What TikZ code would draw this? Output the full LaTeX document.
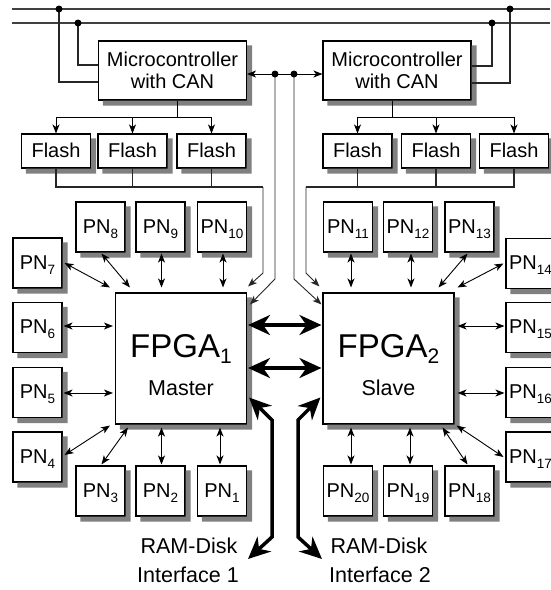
\documentclass[tikz,border=0pt]{standalone}
\usepackage{fontspec}
\setmainfont{Liberation Sans}
\usetikzlibrary{arrows.meta,calc}
\newcommand{\lowr}[3]{\raisebox{-#1pt}{\fontsize{#2pt}{#2pt}\selectfont #3}}
\newcommand{\pnl}[1]{PN\lowr{5}{13.5}{#1}}
\begin{document}
\begin{tikzpicture}[x=1pt,y=-1pt,
  box/.style={draw=black, line width=1.1pt, fill=white, inner sep=0pt},
  pnbox/.style={box, minimum width=49pt, minimum height=50pt,
    font=\fontsize{20}{20}\selectfont, text height=12pt, text depth=0pt},
  flashbox/.style={box, minimum width=69pt, minimum height=34pt,
    font=\fontsize{20}{20}\selectfont, text height=13.5pt, text depth=0pt},
  microbox/.style={box, minimum width=148pt, minimum height=59pt, align=center,
    font=\fontsize{20}{22}\selectfont, text height=35pt, text depth=0pt},
  fpgabox/.style={box, minimum width=131pt, minimum height=131pt, align=center,
    font=\fontsize{33}{38}\selectfont, text height=73pt, text depth=0pt},
  shadowfill/.style={fill=black!50},
  wire/.style={draw=black!85, line width=1.1pt},
  busline/.style={draw=black!75, line width=1.1pt},
  dotnode/.style={circle, fill=black, inner sep=0pt, minimum size=7pt},
  tip/.tip={Stealth[length=9pt,width=7pt,inset=2.5pt]},
  bigtip/.tip={Stealth[length=22pt,width=20pt,inset=7pt]},
  both/.style={line width=0.9pt, tip-tip},
  onearrow/.style={line width=0.9pt, -tip},
  big/.style={line width=3.5pt, bigtip-bigtip},
  ramtext/.style={font=\fontsize{21.5}{21.5}\selectfont, anchor=base, inner sep=0pt}
]
\useasboundingbox (0,0) rectangle (550,590);

% ---------- boxes ----------
\node[microbox] (ML) at (172.5,70.5) {Microcontroller\\with CAN};
\node[microbox] (MR) at (397,70.5) {Microcontroller\\with CAN};

\node[flashbox] (FL1) at (56,151) {Flash};
\node[flashbox] (FL2) at (132.5,151) {Flash};
\node[flashbox] (FL3) at (211.5,151) {Flash};
\node[flashbox] (FR1) at (357.5,151) {Flash};
\node[flashbox] (FR2) at (436,151) {Flash};
\node[flashbox] (FR3) at (514,151) {Flash};

\node[pnbox] (P8) at (100.5,227) {\pnl{8}};
\node[pnbox] (P9) at (160.5,227) {\pnl{9}};
\node[pnbox] (P10) at (222,227) {\pnl{10}};
\node[pnbox] (P7) at (37.5,263) {\pnl{7}};
\node[pnbox] (P6) at (37.5,327.5) {\pnl{6}};
\node[pnbox] (P5) at (37.5,392.5) {\pnl{5}};
\node[pnbox] (P4) at (37.5,457) {\pnl{4}};
\node[pnbox] (P3) at (100.5,491) {\pnl{3}};
\node[pnbox] (P2) at (160.5,491) {\pnl{2}};
\node[pnbox] (P1) at (222,491) {\pnl{1}};

\node[pnbox] (P11) at (348,227) {\pnl{11}};
\node[pnbox] (P12) at (408,227) {\pnl{12}};
\node[pnbox] (P13) at (469.5,227) {\pnl{13}};
\node[pnbox] (P14) at (530.5,263.5) {\pnl{14}};
\node[pnbox] (P15) at (530.5,327.5) {\pnl{15}};
\node[pnbox] (P16) at (530.5,392.5) {\pnl{16}};
\node[pnbox] (P17) at (530.5,457) {\pnl{17}};
\node[pnbox] (P20) at (348,491) {\pnl{20}};
\node[pnbox] (P19) at (408,491) {\pnl{19}};
\node[pnbox] (P18) at (469.5,491) {\pnl{18}};

\node[fpgabox] (F1) at (181,358.5) {FPGA\lowr{6}{21}{1}\\{\fontsize{21.5}{38}\selectfont Master}};
\node[fpgabox] (F2) at (388.5,358.5) {FPGA\lowr{6}{21}{2}\\{\fontsize{21.5}{38}\selectfont Slave}};

% ---------- shadows (L-shaped part outside each box) ----------
\foreach \n in {ML,MR,FL1,FL2,FL3,FR1,FR2,FR3,P1,P2,P3,P4,P5,P6,P7,P8,P9,P10,
  P11,P12,P13,P14,P15,P16,P17,P18,P19,P20,F1,F2}
  \fill[shadowfill] ($(\n.north east)+(0,5)$) -- ($(\n.north east)+(5,5)$)
     -- ($(\n.south east)+(5,5)$) -- ($(\n.south west)+(5,5)$)
     -- ($(\n.south west)+(5,0)$) -- (\n.south east) -- cycle;

% ---------- CAN bus ----------
\coordinate (bA0) at (12,9);  \coordinate (bA1) at (550,9);
\coordinate (bB0) at (12,23); \coordinate (bB1) at (550,23);
\draw[busline] (bA0) -- (bA1);
\draw[busline] (bB0) -- (bB1);
\coordinate (dA) at (59,9);  \coordinate (dB) at (78,23);
\coordinate (dC) at (492,23); \coordinate (dD) at (510,9);
\coordinate (wA) at (0,82); \coordinate (wB) at (0,65);
\coordinate (wC) at (0,66); \coordinate (wD) at (0,83);
\draw[wire] (dA) |- (ML.west |- wA);
\draw[wire] (dB) |- (ML.west |- wB);
\draw[wire] (dC) |- (MR.east |- wC);
\draw[wire] (dD) |- (MR.east |- wD);
\foreach \d in {dA,dB,dC,dD} \node[dotnode] at (\d) {};

% ---------- CAN link between controllers and FPGAs ----------
\coordinate (c1) at (275,74); \coordinate (c2) at (294,74);
\coordinate (k1) at (275,279); \coordinate (k2) at (294,279);
\draw[both] (ML.east |- c1) -- (MR.west |- c1);
\draw[wire,onearrow] (c1) -- (k1) -- ($(F1.north east)+(3,12)$);
\draw[wire,onearrow] (c2) -- (k2) -- ($(F2.north west)+(-1,12)$);
\node[dotnode] (dc1) at (c1) {};
\node[dotnode] (dc2) at (c2) {};

% ---------- controller to flash ----------
\coordinate (mlj) at (177,117); \coordinate (mrj) at (392,117);
\draw[line width=0.9pt] (ML.south -| mlj) -- (mlj);
\draw[line width=0.9pt] (FL1.north |- mlj) -- (FL3.north |- mlj);
\foreach \f in {FL1,FL2,FL3} \draw[onearrow] (\f.north |- mlj) -- (\f.north);
\draw[line width=0.9pt] (MR.south -| mrj) -- (mrj);
\draw[line width=0.9pt] (FR1.north |- mrj) -- (FR3.north |- mrj);
\foreach \f in {FR1,FR2,FR3} \draw[onearrow] (\f.north |- mrj) -- (\f.north);

% ---------- flash to FPGA ----------
\coordinate (fbL) at (263,187); \coordinate (fbR) at (306,187);
\coordinate (fbL2) at (263,273); \coordinate (fbR2) at (306,273);
\draw[wire] (FL1.south) |- (fbL);
\draw[wire] (FL2.south) -- (FL2.south |- fbL);
\draw[wire] (FL3.south) -- (FL3.south |- fbL);
\draw[wire,onearrow] (fbL) -- (fbL2) -- ($(F1.north east)+(1,-6)$);
\draw[wire] (FR3.south) |- (fbR);
\draw[wire] (FR2.south) -- (FR2.south |- fbR);
\draw[wire] (FR1.south) -- (FR1.south |- fbR);
\draw[wire,onearrow] (fbR) -- (fbR2) -- ($(F2.north west)+(-3,-6)$);

% ---------- PN links, FPGA 1 ----------
\draw[both] ($(P7.east)+(2,0)$) -- ($(F1.north west)+(-5,-5)$);
\draw[both] ($(P8.south)+(1,1)$) -- ($(F1.north west)+(15,-5)$);
\draw[both] ($(P9.south)+(1,1)$) -- ($(P9.south |- F1.north)+(1,-5)$);
\draw[both] ($(P10.south)+(1,1)$) -- ($(P10.south |- F1.north)+(1,-5)$);
\draw[both] ($(P6.east)+(1,-1.5)$) -- ($(P6.east -| F1.west)+(-2,-1.5)$);
\draw[both] ($(P5.east)+(1,0.5)$) -- ($(P5.east -| F1.west)+(-2,0.5)$);
\draw[both] ($(P4.east)+(2,-2)$) -- ($(F1.south west)+(-5,1)$);
\draw[both] ($(P3.north)+(1,-1)$) -- ($(F1.south west)+(13,3)$);
\draw[both] ($(P2.north)+(1,-1)$) -- ($(P2.north |- F1.south)+(1,3)$);
\draw[both] ($(P1.north)+(-2,-1)$) -- ($(P1.north |- F1.south)+(-2,3)$);

% ---------- PN links, FPGA 2 ----------
\draw[both] ($(P11.south)+(3,1)$) -- ($(P11.south |- F2.north)+(3,-5)$);
\draw[both] ($(P12.south)+(3,1)$) -- ($(P12.south |- F2.north)+(3,-5)$);
\draw[both] ($(P13.south)+(-2,1)$) -- ($(F2.north east)+(-16,-5)$);
\draw[both] ($(P14.west)+(-2,0)$) -- ($(F2.north east)+(3,-5)$);
\draw[both] ($(P15.west)+(-1,-1.5)$) -- ($(P15.west -| F2.east)+(3,-1.5)$);
\draw[both] ($(P16.west)+(-1,0.5)$) -- ($(P16.west -| F2.east)+(3,0.5)$);
\draw[both] ($(P17.west)+(-2,0)$) -- ($(F2.south east)+(2,1)$);
\draw[both] ($(P18.north)+(-2,-1)$) -- ($(F2.south east)+(-12,3)$);
\draw[both] ($(P19.north)+(2,-1)$) -- ($(P19.north |- F2.south)+(2,3)$);
\draw[both] ($(P20.north)+(3,-1)$) -- ($(P20.north |- F2.south)+(3,3)$);

% ---------- FPGA to FPGA ----------
\coordinate (t1) at (0,325); \coordinate (t2) at (0,368);
\draw[big] ($(F1.east |- t1)+(1,0)$) -- ($(F2.west |- t1)+(-1,0)$);
\draw[big] ($(F1.east |- t2)+(1,0)$) -- ($(F2.west |- t2)+(-1,0)$);

% ---------- RAM-Disk interfaces ----------
\coordinate (r1a) at (272,420); \coordinate (r1b) at (272,537); \coordinate (r1c) at (248,559);
\coordinate (r2a) at (298,420); \coordinate (r2b) at (298,537); \coordinate (r2c) at (322,559);
\draw[big] ($(F1.east)+(2,39)$) -- (r1a) -- (r1b) -- (r1c);
\draw[big] ($(F2.west)+(-2,39)$) -- (r2a) -- (r2b) -- (r2c);

\node[ramtext] (R1a) at (189,553) {RAM-Disk};
\node[ramtext] (R1b) at (188,582) {Interface 1};
\node[ramtext] (R2a) at (379,553) {RAM-Disk};
\node[ramtext] (R2b) at (380,582) {Interface 2};
\end{tikzpicture}
\end{document}
